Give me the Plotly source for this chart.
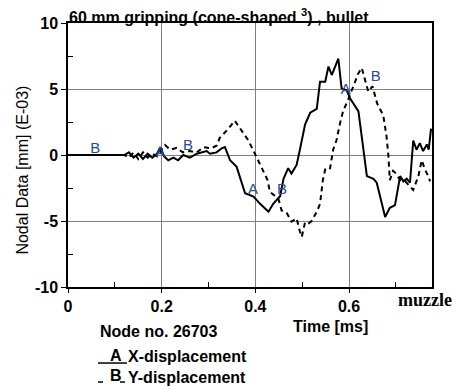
import plotly.graph_objects as go

# X-displacement (curve A, solid)
t_a = [0, 0.12, 0.13, 0.14, 0.15, 0.16, 0.17, 0.18, 0.19, 0.197, 0.205, 0.214, 0.225, 0.235,
       0.246, 0.26, 0.275, 0.285, 0.296, 0.303, 0.317, 0.328, 0.335, 0.346, 0.36, 0.378, 0.396,
       0.41, 0.428, 0.438, 0.453, 0.46, 0.47, 0.477, 0.488, 0.495, 0.506, 0.517, 0.531, 0.538,
       0.549, 0.556, 0.563, 0.577, 0.584, 0.595, 0.602, 0.62, 0.638, 0.652, 0.659, 0.677, 0.687,
       0.698, 0.709, 0.716, 0.723, 0.73, 0.737, 0.744, 0.751, 0.758, 0.766, 0.77, 0.775]
x_disp = [0, 0, 0.2, -0.2, 0.1, -0.3, 0.1, -0.2, 0.1, 0.6, -0.1, -0.4, -0.2, -0.4,
          0.0, -0.2, 0.1, 0.2, 0.3, 0.1, 0.2, 0.5, 0.6, -0.4, -0.9, -2.9, -3.15,
          -3.7, -4.3, -3.7, -3.1, -1.8, -1.0, -1.4, -0.75, 0.4, 2.3, 3.2, 3.5, 5.55,
          5.55, 6.7, 6.06, 7.3, 5.05, 4.9, 4.3, 3.3, -1.6, -1.8, -2.1, -4.7, -4.0,
          -3.8, -1.6, -2.0, -1.8, -2.1, 1.1, 0.4, 0.9, 0.3, 0.8, 0.4, 2.0]

# Y-displacement (curve B, dashed)
t_b = [0, 0.12, 0.13, 0.14, 0.15, 0.16, 0.17, 0.18, 0.19, 0.207, 0.218, 0.232, 0.245, 0.26,
       0.275, 0.289, 0.305, 0.317, 0.324, 0.34, 0.356, 0.371, 0.385, 0.399, 0.413, 0.426,
       0.431, 0.449, 0.456, 0.467, 0.477, 0.488, 0.495, 0.499, 0.506, 0.513, 0.52, 0.531,
       0.538, 0.544, 0.549, 0.559, 0.566, 0.573, 0.58, 0.587, 0.598, 0.609, 0.62, 0.627,
       0.634, 0.641, 0.65, 0.66, 0.673, 0.68, 0.684, 0.687, 0.694, 0.7, 0.709, 0.72, 0.737,
       0.748, 0.755, 0.762, 0.769, 0.773]
y_disp = [0, 0, -0.2, 0.2, -0.3, 0.2, -0.2, 0.1, -0.1, 0.75, 0.4, 0.55, 0.2, 0.3,
          0.2, 0.6, 0.5, 0.7, 1.3, 1.9, 2.6, 1.8, 1.1, 0.1, -1.0, -1.9,
          -2.8, -3.3, -4.2, -4.4, -5.05, -4.8, -5.8, -6.2, -5.1, -5.2, -5.0, -4.3,
          -3.7, -1.9, -1.1, -1.1, 0.4, 1.1, 2.3, 3.3, 4.2, 5.2, 6.2, 6.6,
          5.7, 4.8, 5.2, 3.9, 3.0, 1.4, -0.1, -1.9, -1.2, -1.4, -1.9, -2.0, -2.65,
          -1.6, -0.4, -1.1, -1.6, -2.0]

# curve labels
lab_text = ["B", "A", "B", "A", "B", "A", "B"]
lab_t = [0.058, 0.197, 0.256, 0.395, 0.457, 0.593, 0.657]
lab_v = [0.4, 0.15, 0.7, -2.65, -2.65, 4.9, 5.9]

x_ticks = [0, 0.2, 0.4, 0.6]
x_tick_labels = ["0", "0.2", "0.4", "0.6"]
y_ticks = [-10, -5, 0, 5, 10]
y_tick_labels = ["-10", "-5", "0", "5", "10"]

fig = go.Figure()
fig.add_trace(go.Scatter(x=t_a, y=x_disp, mode="lines",
                         line=dict(color="black", width=2), showlegend=False))
fig.add_trace(go.Scatter(x=t_b, y=y_disp, mode="lines",
                         line=dict(color="black", width=2, dash="5px,4px"), showlegend=False))
fig.add_trace(go.Scatter(x=lab_t, y=lab_v, mode="text", text=lab_text,
                         textfont=dict(family="Liberation Sans, Arial", size=15, color="#2a4a9a"),
                         showlegend=False))

font_b = dict(family="Liberation Sans, Arial", size=16, color="black")

fig.update_layout(
    width=456, height=390,
    margin=dict(l=68, r=24, t=23, b=103),
    plot_bgcolor="white", paper_bgcolor="white",
    xaxis=dict(range=[0, 0.777], tickvals=x_ticks, ticktext=x_tick_labels,
               showgrid=True, gridcolor="#808080", gridwidth=1,
               showline=True, linecolor="black", linewidth=1.5, mirror=True,
               ticks="outside", ticklen=4, tickcolor="black",
               minor=dict(tickvals=[0.1, 0.3, 0.5, 0.7], ticks="inside", ticklen=5,
                          tickcolor="black", showgrid=False),
               tickfont=dict(family="Liberation Sans, Arial", size=16, color="black", weight="bold"),
               zeroline=False),
    yaxis=dict(range=[-10, 10], tickvals=y_ticks, ticktext=y_tick_labels,
               showgrid=True, gridcolor="#808080", gridwidth=1,
               showline=True, linecolor="black", linewidth=1.5, mirror=True,
               ticks="outside", ticklen=5, tickcolor="black",
               minor=dict(tickvals=[-7.5, -2.5, 2.5, 7.5], ticks="inside", ticklen=5,
                          tickcolor="black", showgrid=False),
               tickfont=dict(family="Liberation Sans, Arial", size=16, color="black", weight="bold"),
               zeroline=False),
)

def ann(text, x, y, xanchor="left", font=None, **kw):
    fig.add_annotation(text=text, x=x, y=y, xref="paper", yref="paper",
                       xanchor=xanchor, yanchor="middle", showarrow=False,
                       font=font or dict(font_b, weight="bold"), **kw)

ann("60 mm gripping (cone-shaped <sup>3</sup>) , bullet", -0.003, 1.026)
ann("Nodal Data [mm] (E-03)", -0.1236, 0.441, xanchor="center",
    font=dict(family="Liberation Sans, Arial", size=16, color="black"), textangle=-90)
ann("muzzle", 0.981, -0.049, xanchor="center",
    font=dict(family="Liberation Serif, Times New Roman", size=18, color="black", weight="bold"))
ann("Time [ms]", 0.7198, -0.150, xanchor="center")
ann("Node no. 26703", 0.0824, -0.169)
ann("X-displacement", 0.159, -0.265)
ann("A", 0.1319, -0.258, xanchor="center")
ann("Y-displacement", 0.159, -0.341)
ann("B", 0.1319, -0.337, xanchor="center")

fig.add_shape(type="line", xref="paper", yref="paper", x0=0.0824, x1=0.162,
              y0=-0.288, y1=-0.288, line=dict(color="black", width=1.5))
for a, b in [(0.0824, 0.0962), (0.1429, 0.1566)]:
    fig.add_shape(type="line", xref="paper", yref="paper", x0=a, x1=b,
                  y0=-0.360, y1=-0.360, line=dict(color="black", width=1.5))

fig.write_html("out.html")
